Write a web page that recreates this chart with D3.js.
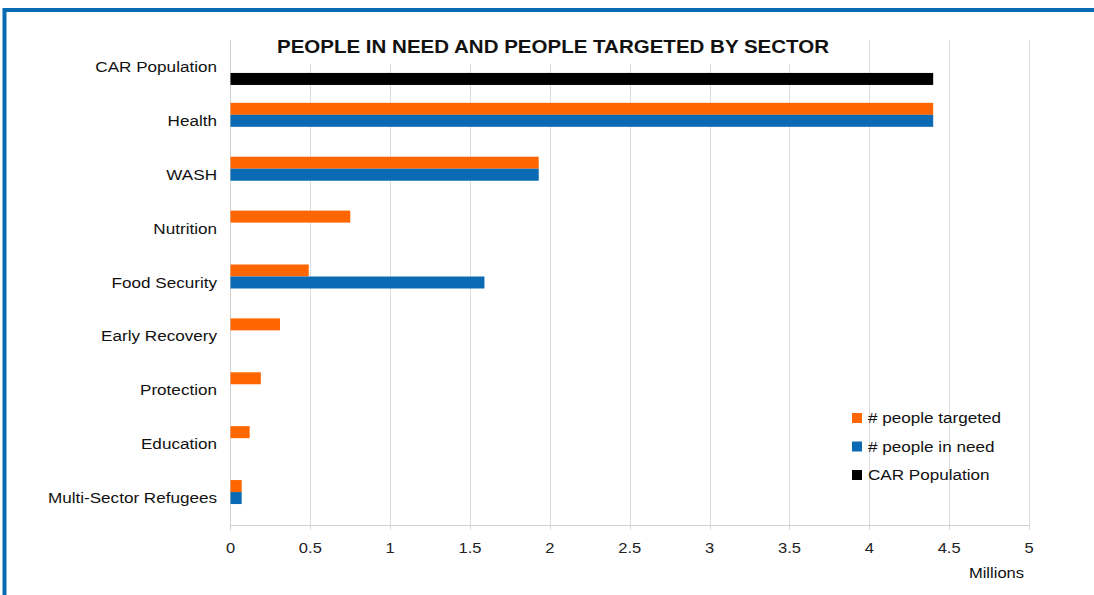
<!DOCTYPE html>
<html>
<head>
<meta charset="utf-8">
<script src="https://cdn.jsdelivr.net/npm/d3@7"></script>
<style>
  html, body { margin: 0; padding: 0; background: #fff; }
  svg { display: block; font-family: "Liberation Sans", Arial, sans-serif; }
</style>
</head>
<body>
<svg id="chart" width="1094" height="595"></svg>
<script>
// Sectors, top to bottom
const categories = ["CAR Population", "Health", "WASH", "Nutrition", "Food Security",
  "Early Recovery", "Protection", "Education", "Multi-Sector Refugees"];
// Values in millions of people
const peopleTargeted = [null, 4.4, 1.93, 0.75, 0.49, 0.31, 0.19, 0.12, 0.07];
const peopleInNeed   = [null, 4.4, 1.93, null, 1.59, null, null, null, 0.07];
const carPopulation  = [4.4, null, null, null, null, null, null, null, null];
const seriesNames = ["# people targeted", "# people in need", "CAR Population"];
const seriesColors = ["#ff6600", "#0a6ab4", "#000000"];
const xTicks = [0, 0.5, 1, 1.5, 2, 2.5, 3, 3.5, 4, 4.5, 5];

const seriesValues = [peopleTargeted, peopleInNeed, carPopulation];
const stretch = 1.14; // horizontal text stretch

const svg = d3.select("#chart");

// Outer frame
svg.append("rect")
  .attr("x", 4.5).attr("y", 10)
  .attr("width", 1300).attr("height", 800)
  .attr("fill", "none").attr("stroke", "#0a6ab4").attr("stroke-width", 4);

const plot = { left: 230.5, right: 1029, top: 40, bottom: 525 };

const x = d3.scaleLinear().domain([0, 5]).range([plot.left, plot.right]);
const y0 = d3.scaleBand().domain(categories).range([plot.top, plot.bottom]).padding(0);
const y1 = d3.scaleBand().domain(seriesNames).range([0, y0.bandwidth()])
  .paddingInner(0).paddingOuter(0.745);

// Vertical gridlines
svg.append("g").selectAll("line")
  .data(xTicks.slice(1))
  .join("line")
  .attr("x1", d => Math.round(x(d)) + 0.5).attr("x2", d => Math.round(x(d)) + 0.5)
  .attr("y1", plot.top).attr("y2", plot.bottom + 5)
  .attr("stroke", "#dcdcdc").attr("stroke-width", 1);

// Axis lines
svg.append("line")
  .attr("x1", plot.left).attr("x2", plot.left)
  .attr("y1", plot.top).attr("y2", plot.bottom + 5)
  .attr("stroke", "#d0d0d0");
svg.append("line")
  .attr("x1", plot.left).attr("x2", plot.right)
  .attr("y1", plot.bottom + 0.5).attr("y2", plot.bottom + 0.5)
  .attr("stroke", "#d0d0d0");

// Bars
const rows = categories.map((c, i) => ({ cat: c, vals: seriesValues.map((s, k) => ({ k, v: s[i] })) }));
const groups = svg.append("g").selectAll("g")
  .data(rows)
  .join("g")
  .attr("transform", d => `translate(0,${y0(d.cat)})`);
groups.selectAll("rect")
  .data(d => d.vals.filter(v => v.v != null))
  .join("rect")
  .attr("x", x(0))
  .attr("y", d => y1(seriesNames[d.k]))
  .attr("width", d => x(d.v) - x(0))
  .attr("height", y1.bandwidth())
  .attr("fill", d => seriesColors[d.k]);

// Helper for horizontally stretched text
function label(xp, yp, txt, opts) {
  const t = svg.append("text")
    .attr("transform", `translate(${xp},${yp}) scale(${stretch},1)`)
    .attr("text-anchor", opts.anchor || "start")
    .attr("font-size", opts.size)
    .attr("font-weight", opts.weight || "normal")
    .attr("fill", opts.fill || "#111")
    .text(txt);
  return t;
}

// Category labels
categories.forEach(c => {
  label(217, y0(c) + y0.bandwidth() / 2 + 5, c, { anchor: "end", size: 15 });
});

// Tick labels
xTicks.forEach(t => {
  label(x(t), 553, String(t), { anchor: "middle", size: 14.5, fill: "#222" });
});

label(1024, 578, "Millions", { anchor: "end", size: 14.5 });

// Title with white backing
svg.append("rect").attr("x", 270).attr("y", 36).attr("width", 566).attr("height", 28).attr("fill", "#fff");
label(553, 53, "PEOPLE IN NEED AND PEOPLE TARGETED BY SECTOR", { anchor: "middle", size: 18, weight: "bold" });

// Legend
const legend = svg.append("g");
seriesNames.forEach((name, k) => {
  const ly = 413 + k * 28.5;
  legend.append("rect").attr("x", 852).attr("y", ly).attr("width", 10).attr("height", 10)
    .attr("fill", seriesColors[k]);
  label(868, ly + 10, name, { size: 15 });
});
</script>
</body>
</html>
